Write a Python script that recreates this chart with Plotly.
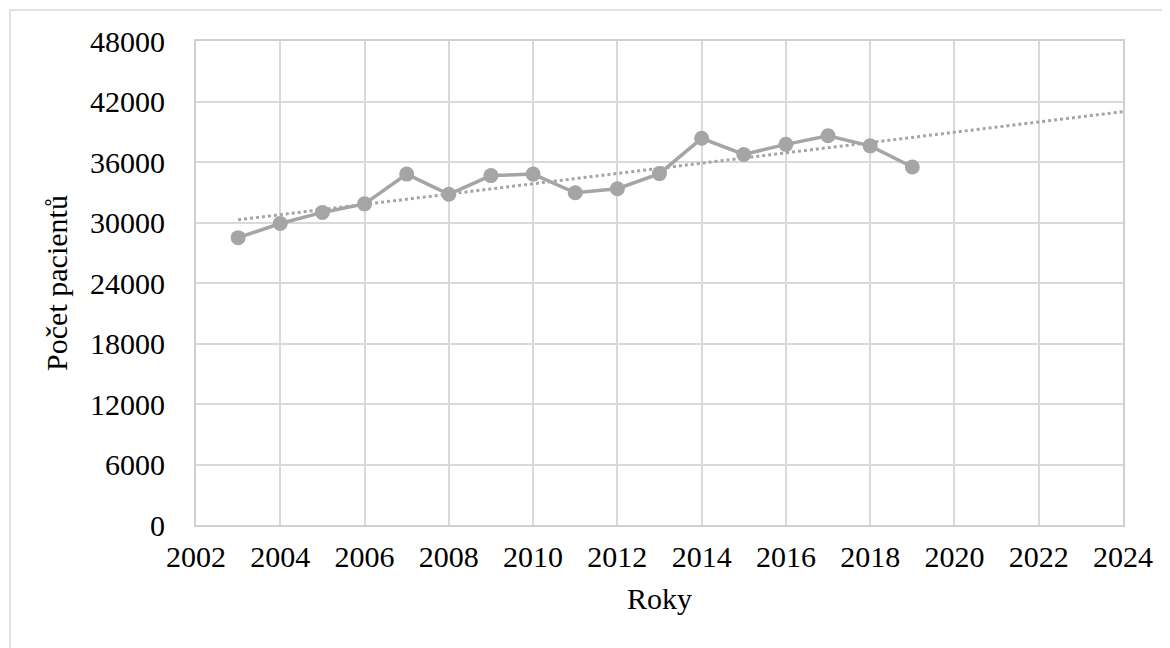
import numpy as np
import plotly.graph_objects as go

years = [2003, 2004, 2005, 2006, 2007, 2008, 2009, 2010, 2011, 2012,
         2013, 2014, 2015, 2016, 2017, 2018, 2019]
patients = [28500, 29900, 31000, 31850, 34800, 32800, 34650, 34800, 32950, 33350,
            34850, 38350, 36750, 37750, 38600, 37600, 35500]
x_ticks = list(range(2002, 2025, 2))
y_ticks = list(range(0, 48001, 6000))
trend_years = [2003, 2024]

coef = np.polyfit(years, patients, 1)
trend_vals = np.polyval(coef, trend_years)

GRAY = "#a5a5a5"
GRID = "#d9d9d9"
FONT = "Liberation Serif, Times New Roman, serif"

L, R, T, B = 188, 55, 33, 131
PW, PH = 1170 - L - R, 648 - T - B

fig = go.Figure()
fig.add_trace(go.Scatter(
    x=trend_years, y=trend_vals, mode="lines",
    line=dict(color=GRAY, width=3, dash="dot"),
    hoverinfo="skip", showlegend=False))
fig.add_trace(go.Scatter(
    x=years, y=patients, mode="lines+markers",
    line=dict(color=GRAY, width=3.5),
    marker=dict(color=GRAY, size=15),
    showlegend=False))

fig.update_layout(
    width=1170, height=648,
    margin=dict(l=L, r=R, t=T, b=B),
    paper_bgcolor="white", plot_bgcolor="white",
    font=dict(family=FONT, size=30, color="black"),
    showlegend=False,
    shapes=[dict(type="rect", xref="paper", yref="paper",
                 x0=(2 - L) / PW, x1=1.3, y0=-0.5, y1=1 + (T - 2) / PH,
                 line=dict(color="#d9d9d9", width=1.5), layer="below")],
)
fig.update_xaxes(
    range=[2002, 2024], tickvals=x_ticks, ticktext=[str(v) for v in x_ticks],
    showgrid=True, gridcolor=GRID, gridwidth=2,
    showline=True, linecolor="#d0d0d0", linewidth=2, mirror=True,
    zeroline=False, ticks="", ticklabelstandoff=4,
    title=dict(text="Roky", font=dict(size=30), standoff=16),
)
fig.update_yaxes(
    range=[0, 48000], tickvals=y_ticks, ticktext=[str(v) for v in y_ticks],
    showgrid=True, gridcolor=GRID, gridwidth=2,
    showline=True, linecolor="#d0d0d0", linewidth=2, mirror=True,
    zeroline=False, ticks="", ticklabelstandoff=23,
    title=dict(text="Počet pacientů", font=dict(size=30), standoff=14),
)
fig.write_html("out.html")
